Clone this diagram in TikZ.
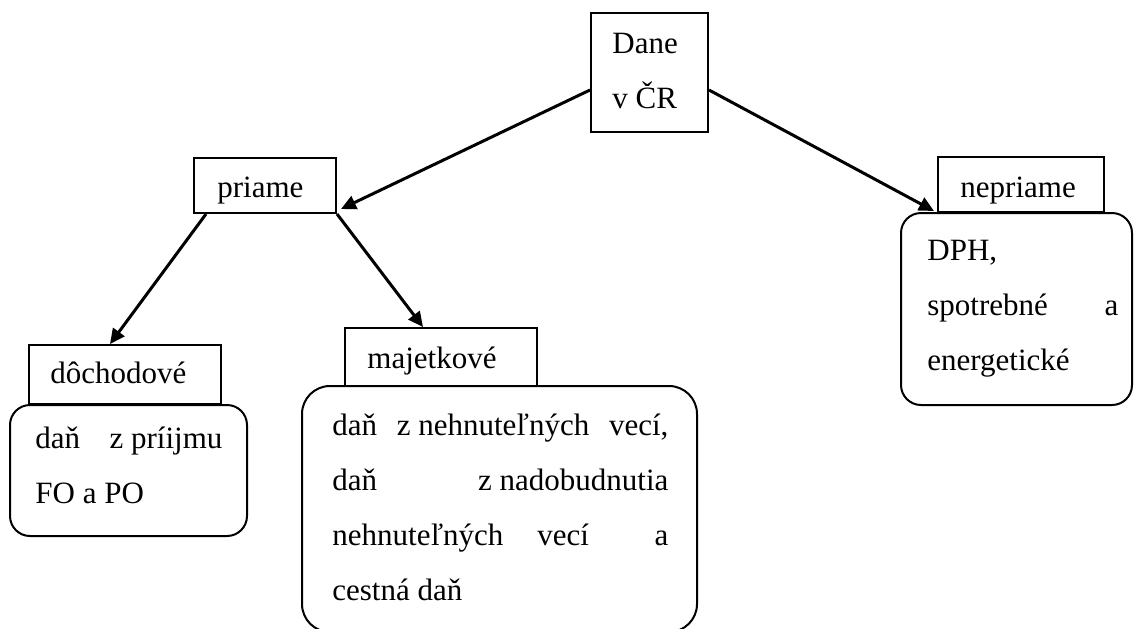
\documentclass[tikz,border=0pt]{standalone}
\usepackage{fontspec}
\setmainfont{Liberation Serif}
\usetikzlibrary{fit,arrows.meta}
\tikzset{
  box/.style={draw, line width=1pt, inner sep=0pt, rectangle},
  rbox/.style={draw, line width=1pt, inner sep=0pt, rectangle, rounded corners=10pt},
  txt/.style={inner sep=0pt, anchor=base west, font=\fontsize{15.5}{18}\selectfont},
  arr/.style={line width=1.5pt, -{Triangle[length=7.5pt,width=7pt]}},
}
\begin{document}
\begin{tikzpicture}[x=0.5pt,y=-0.5pt]
\clip (0,0) rectangle (1134,628);
\fill[white] (0,0) rectangle (1134,628);
% header boxes
\node[box, fit={(591,13) (708,132)}] (dane) {};
\node[box, fit={(194,158) (336,213)}] (priame) {};
\node[box, fit={(29,345) (221,404)}] (doch) {};
\node[box, fit={(345,328) (537,386)}] (maj) {};
\node[box, fit={(938,157) (1104,212)}] (nepr) {};
% content boxes
\node[rbox, fit={(10,405) (247,536)}] (dochc) {};
\node[rbox, rounded corners=14pt, fit={(302,386) (697,632)}] (majc) {};
\node[rbox, fit={(901,213) (1132,405)}] (neprc) {};
% texts
\node[txt] (t1) at (612,53) {Dane};
\node[txt] (t2) at (612,108) {v ČR};
\node[txt] (t3) at (217,197) {priame};
\node[txt] (t4) at (50,383) {dôchodové};
\node[txt] (t5) at (367,368) {majetkové};
\node[txt] (t6) at (960,197) {nepriame};
\node[txt] (d1) at (35,448) {\hbox to 93.5pt{daň\hfill z príijmu}};
\node[txt] (d2) at (35,503) {FO a PO};
\node[txt] (m1) at (332,435) {\hbox to 168pt{daň\hfill z nehnuteľných\hfill vecí,}};
\node[txt] (m2) at (332,490) {\hbox to 168pt{daň\hfill z nadobudnutia}};
\node[txt] (m3) at (332,545) {\hbox to 168pt{nehnuteľných\hspace*{17pt}vecí\hfill a}};
\node[txt] (m4) at (332,600) {cestná daň};
\node[txt] (n1) at (927,260) {DPH,};
\node[txt] (n2) at (927,315) {\hbox to 95.5pt{spotrebné\hfill a}};
\node[txt] (n3) at (927,370) {energetické};
% connectors
\draw[arr] ([yshift=-8.75pt]dane.west) -- ([xshift=2pt,yshift=2.5pt]priame.south east);
\draw[arr] ([yshift=-8.75pt]dane.east) -- ([xshift=-1.5pt,yshift=1pt]nepr.south west);
\draw[arr] ([xshift=6.5pt]priame.south west) -- ([xshift=-7.5pt]doch.north);
\draw[arr] (priame.south east) -- ([xshift=-9pt]maj.north);
\end{tikzpicture}
\end{document}
